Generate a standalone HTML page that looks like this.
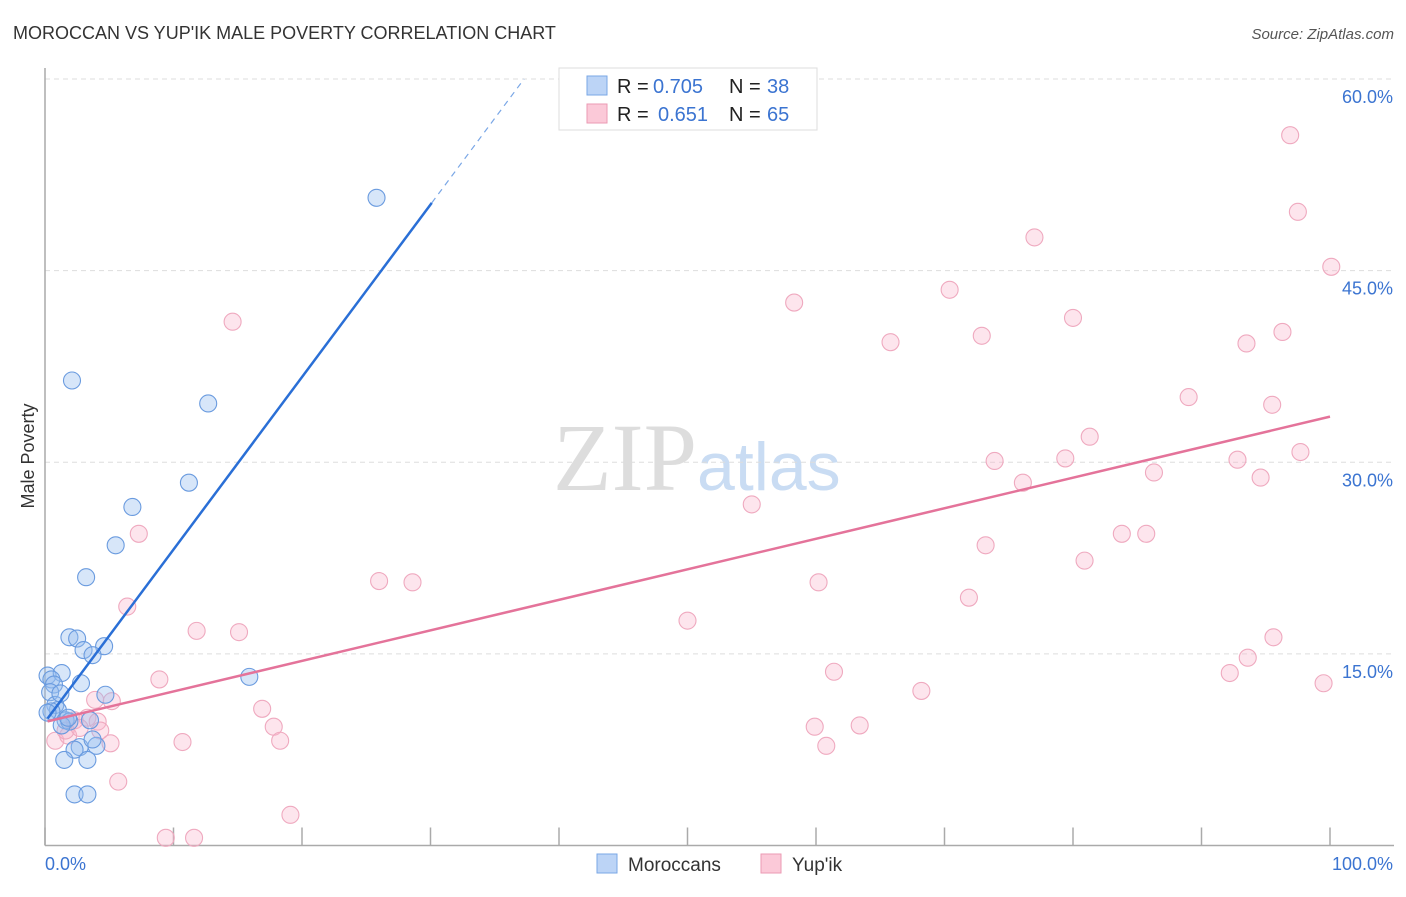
<!DOCTYPE html>
<html><head><meta charset="utf-8"><style>
body{margin:0;background:#fff;font-family:"Liberation Sans",sans-serif}
</style></head><body>
<svg id="chart" width="1406" height="892" xmlns="http://www.w3.org/2000/svg" font-family="Liberation Sans, sans-serif">
<text x="13" y="39" font-size="18" fill="#333">MOROCCAN VS YUP'IK MALE POVERTY CORRELATION CHART</text>
<text x="1394" y="39" font-size="15" fill="#555" font-style="italic" text-anchor="end">Source: ZipAtlas.com</text>
<text x="553" y="490" font-size="96" fill="#ddd" font-family="Liberation Serif, serif">ZIP<tspan fill="#c9dcf3" font-family="Liberation Sans, sans-serif" font-size="68">atlas</tspan></text>
<text transform="translate(34,456) rotate(-90)" font-size="18" fill="#333" text-anchor="middle">Male Poverty</text>
<g id="grid"></g><g id="axes"></g><g id="marks"></g>
<g>
<rect x="559" y="68" width="258" height="62" fill="#fff" stroke="#ddd"/>
<rect x="587" y="76" width="20" height="19" fill="#bcd4f6" stroke="#7aa7e6"/>
<rect x="587" y="104" width="20" height="19" fill="#fbc9d8" stroke="#eb9ab3"/>
<text x="617" y="93" font-size="20" fill="#222">R =</text>
<text x="653" y="93" font-size="20" fill="#3b74d1">0.705</text>
<text x="729" y="93" font-size="20" fill="#222">N =</text>
<text x="767" y="93" font-size="20" fill="#3b74d1">38</text>
<text x="617" y="121" font-size="20" fill="#222">R =</text>
<text x="658" y="121" font-size="20" fill="#3b74d1">0.651</text>
<text x="729" y="121" font-size="20" fill="#222">N =</text>
<text x="767" y="121" font-size="20" fill="#3b74d1">65</text>
</g>
<g>
<rect x="597" y="854" width="20" height="19" fill="#bcd4f6" stroke="#7aa7e6"/>
<text x="628" y="871" font-size="19" fill="#333">Moroccans</text>
<rect x="761" y="854" width="20" height="19" fill="#fbc9d8" stroke="#eb9ab3"/>
<text x="792" y="871" font-size="19" fill="#333">Yup'ik</text>
</g>
</svg>
<script>
const yTicks=[15,30,45,60];
const yTickLabels=["15.0%","30.0%","45.0%","60.0%"];
const xTicks=[0,10,20,30,40,50,60,70,80,90,100];
const blueX=[25.8,2.1,12.7,11.2,6.8,5.5,3.2,1.9,2.5,4.6,3.0,3.7,15.9,0.2,1.3,0.5,0.7,2.8,0.4,4.7,0.8,1.0,0.5,1.6,1.9,3.5,1.3,2.7,4.0,2.3,3.7,1.5,3.3,2.3,3.3,0.2,1.2,1.8];
const blueY=[50.7,36.4,34.6,28.4,26.5,23.5,21.0,16.3,16.2,15.6,15.3,14.9,13.2,13.3,13.5,13.0,12.6,12.7,12.0,11.8,11.0,10.6,10.5,9.8,9.7,9.8,9.4,7.7,7.8,7.5,8.3,6.7,6.7,4.0,4.0,10.4,11.9,10.0];
const pinkX=[96.9,97.5,100.1,77.0,58.3,70.4,80.0,72.9,65.8,93.5,96.3,14.6,89.0,95.5,81.3,79.4,73.9,92.8,97.7,86.3,94.6,76.1,55.0,7.3,83.8,85.7,73.2,80.9,26.0,28.6,60.2,6.4,71.9,50.0,11.8,15.1,95.6,93.6,61.4,92.2,8.9,68.2,99.5,3.9,5.2,16.9,2.3,3.3,4.1,17.8,59.9,63.4,0.8,1.8,4.3,10.7,5.1,18.3,60.8,5.7,19.1,9.4,11.6,1.6,2.7];
const pinkY=[55.6,49.6,45.3,47.6,42.5,43.5,41.3,39.9,39.4,39.3,40.2,41.0,35.1,34.5,32.0,30.3,30.1,30.2,30.8,29.2,28.8,28.4,26.7,24.4,24.4,24.4,23.5,22.3,20.7,20.6,20.6,18.7,19.4,17.6,16.8,16.7,16.3,14.7,13.6,13.5,13.0,12.1,12.7,11.4,11.3,10.7,9.8,10.0,9.7,9.3,9.3,9.4,8.2,8.6,9.0,8.1,8.0,8.2,7.8,5.0,2.4,0.6,0.6,9.0,9.2];
const blueLine=[9.67,1.35]; // intercept, slope
const pinkLine=[9.67,0.239];
const X0=45,X1=1330,Y0=845.5,Y60=79;
const sx=v=>X0+(X1-X0)*v/100;
const sy=v=>Y0-(Y0-Y60)*v/60;
const NS="http://www.w3.org/2000/svg";
function mk(t,a,parent){const e=document.createElementNS(NS,t);for(const k in a)e.setAttribute(k,a[k]);document.querySelector(parent).appendChild(e);return e;}
yTicks.forEach((t,i)=>{
 const g=mk('line',{x1:X0,x2:1394,y1:sy(t),y2:sy(t),stroke:'#ddd','stroke-dasharray':'5,4'},'#grid');
 
 
 const l=mk('text',{x:1393,y:sy(t)+24,'font-size':18,fill:'#3b74d1','text-anchor':'end'},'#axes');
 l.textContent=yTickLabels[i];
 
 
});
const ax=mk('line',{x1:X0,x2:X0,y1:68,y2:Y0,stroke:'#aaa','stroke-width':1.5},'#axes');


const bx=mk('line',{x1:X0,x2:1394,y1:Y0,y2:Y0,stroke:'#aaa','stroke-width':1.5},'#axes');


xTicks.forEach(t=>{
 const k=mk('line',{x1:sx(t),x2:sx(t),y1:Y0-18,y2:Y0,stroke:'#aaa','stroke-width':1.5},'#axes');
 
 
});
const xl0=mk('text',{x:45,y:870,'font-size':18,fill:'#3b74d1'},'#axes');xl0.textContent='0.0%';


const xl1=mk('text',{x:1393,y:870,'font-size':18,fill:'#3b74d1','text-anchor':'end'},'#axes');xl1.textContent='100.0%';


pinkX.forEach((x,i)=>{
 const c=mk('circle',{cx:sx(x),cy:sy(pinkY[i]),r:8.5,fill:'rgba(248,180,202,0.35)',stroke:'#efa9bf','stroke-width':1.1},'#marks');
 
 
});
blueX.forEach((x,i)=>{
 const c=mk('circle',{cx:sx(x),cy:sy(blueY[i]),r:8.5,fill:'rgba(150,188,240,0.38)',stroke:'#6a9bdf','stroke-width':1.1},'#marks');
 
 
});
const pl=mk('line',{x1:sx(0.2),y1:sy(pinkLine[0]+pinkLine[1]*0.2),x2:sx(100),y2:sy(pinkLine[0]+pinkLine[1]*100),stroke:'#e4739a','stroke-width':2.5},'#marks');


const xe=30.1, xd=(60-blueLine[0])/blueLine[1];
const bl=mk('line',{x1:sx(0.2),y1:sy(blueLine[0]+blueLine[1]*0.2),x2:sx(xe),y2:sy(blueLine[0]+blueLine[1]*xe),stroke:'#2a6fd6','stroke-width':2.5},'#marks');


const bd=mk('line',{x1:sx(xe),y1:sy(blueLine[0]+blueLine[1]*xe),x2:sx(xd),y2:sy(60),stroke:'#7aa7e6','stroke-width':1.2,'stroke-dasharray':'6,5'},'#marks');


</script>
</body></html>
